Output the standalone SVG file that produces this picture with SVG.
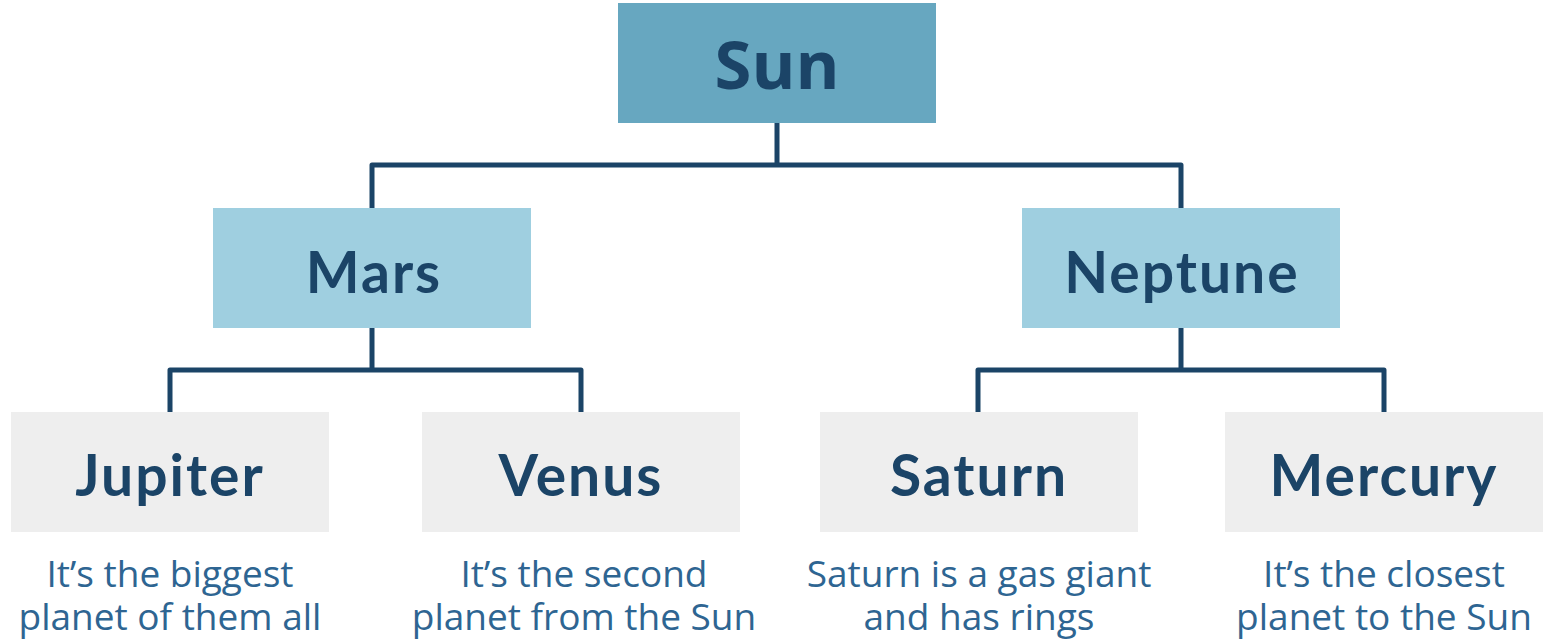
<svg xmlns="http://www.w3.org/2000/svg" width="1545" height="641" viewBox="0 0 1545 641">
<style>
.l1{fill:#67a7c0}
.l2{fill:#9fcfe0}
.l3{fill:#eeeeee}
.t{font-family:Lato,"Noto Sans",sans-serif;font-weight:700;fill:#1b4467;text-anchor:middle;font-size:57px;letter-spacing:2px}
.ts{font-family:"Open Sans",sans-serif;font-weight:700;fill:#1b4467;text-anchor:middle;font-size:67px}
.d{font-family:"Open Sans",sans-serif;fill:#2e6592;text-anchor:middle;font-size:37px}
.c{fill:none;stroke:#1b4467;stroke-width:5;stroke-linejoin:round}
</style>
<g id="connectors">
<path class="c" d="M777 123V165M372 208V165H1181V208"/>
<path class="c" d="M372 328V370M170 412V370H581V412"/>
<path class="c" d="M1181 328V370M978 412V370H1384V412"/>
</g>
<g id="sun"><rect class="l1" x="618" y="3" width="318" height="120"/><text class="ts" x="777" y="89">Sun</text></g>
<g id="mars"><rect class="l2" x="213" y="208" width="318" height="120"/><text class="t" x="374" y="293">Mars</text></g>
<g id="neptune"><rect class="l2" x="1022" y="208" width="318" height="120"/><text class="t" x="1182" y="293">Neptune</text></g>
<g id="jupiter"><rect class="l3" x="11" y="412" width="318" height="120"/><text class="t" x="170" y="496">Jupiter</text>
<text class="d"><tspan x="170" y="587">It’s the biggest</tspan><tspan x="170" y="630">planet of them all</tspan></text></g>
<g id="venus"><rect class="l3" x="422" y="412" width="318" height="120"/><text class="t" x="581" y="496">Venus</text>
<text class="d"><tspan x="584" y="587">It’s the second</tspan><tspan x="584" y="630">planet from the Sun</tspan></text></g>
<g id="saturn"><rect class="l3" x="820" y="412" width="318" height="120"/><text class="t" x="979" y="496">Saturn</text>
<text class="d"><tspan x="979" y="587">Saturn is a gas giant</tspan><tspan x="979" y="630">and has rings</tspan></text></g>
<g id="mercury"><rect class="l3" x="1225" y="412" width="318" height="120"/><text class="t" x="1384" y="496">Mercury</text>
<text class="d"><tspan x="1384" y="587">It’s the closest</tspan><tspan x="1384" y="630">planet to the Sun</tspan></text></g>
</svg>
